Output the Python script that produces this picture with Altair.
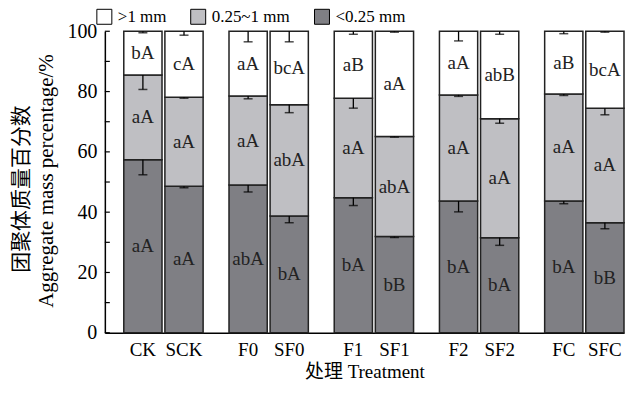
import altair as alt
import pandas as pd

treatments = ["CK", "SCK", "F0", "SF0", "F1", "SF1", "F2", "SF2", "FC", "SFC"]
groups = ["CK", "CK", "F0", "F0", "F1", "F1", "F2", "F2", "FC", "FC"]
subs = ["base", "straw"] * 5
group_order = ["CK", "F0", "F1", "F2", "FC"]
fractions = [">1 mm", "0.25~1 mm", "<0.25 mm"]
frac_colors = ["#ffffff", "#bfbfc3", "#7f7f84"]

fine = [57.4, 48.6, 49.0, 38.7, 44.8, 31.9, 43.7, 31.5, 43.7, 36.5]
mid = [28.1, 29.5, 29.5, 36.9, 33.0, 33.2, 35.2, 39.5, 35.5, 38.0]
coarse = [14.5, 21.9, 21.5, 24.4, 22.2, 34.9, 21.1, 29.0, 20.8, 25.5]

err_fine = [5.0, 0.5, 2.3, 2.2, 2.6, 0.3, 3.6, 2.5, 0.9, 2.0]
err_mid = [4.8, 0.3, 0.9, 2.6, 3.3, 0.2, 0.5, 1.5, 0.5, 2.2]
err_coarse = [0.5, 1.3, 3.5, 3.5, 1.0, 0.3, 3.2, 1.0, 0.8, 0.3]

let_fine = ["aA", "aA", "abA", "bA", "bA", "bB", "bA", "bA", "bA", "bB"]
let_mid = ["aA", "aA", "aA", "abA", "aA", "abA", "aA", "aA", "aA", "aA"]
let_coarse = ["bA", "cA", "aA", "bcA", "aB", "aA", "aA", "abB", "aB", "bcA"]

y_ticks = [0, 10, 20, 30, 40, 50, 60, 70, 80, 90, 100]
y_labels = [0, 20, 40, 60, 80, 100]
title_cn = "团聚体质量百分数"
title_en = "Aggregate mass percentage/%"
x_title = "处理 Treatment"

rows = []
for i, t in enumerate(treatments):
    base = 0.0
    for frac, vals, errs, lets in [
        ("<0.25 mm", fine, err_fine, let_fine),
        ("0.25~1 mm", mid, err_mid, let_mid),
        (">1 mm", coarse, err_coarse, let_coarse),
    ]:
        lo = base
        hi = base + vals[i]
        rows.append(dict(treatment=t, group=groups[i], sub=subs[i], fraction=frac,
                         lo=lo, hi=hi, mid=(lo + hi) / 2, errlo=hi - errs[i],
                         letter=lets[i]))
        base = hi
df = pd.DataFrame(rows)
lab_df = pd.DataFrame({"treatment": treatments, "group": groups, "sub": subs})
tick_df = pd.DataFrame({"v": y_ticks})
serif = "Liberation Serif, Times New Roman, serif"
cjk = "Liberation Serif, Noto Sans CJK SC"

xs = alt.X("group:N", sort=group_order,
           scale=alt.Scale(paddingInner=0.246, paddingOuter=0.09, align=1),
           axis=alt.Axis(labels=False, ticks=False, domainColor="black", domainWidth=1.5,
                         title=x_title, titleFont=cjk, titleFontSize=19,
                         titleFontWeight="normal", titleColor="black", titlePadding=30))
xo = alt.XOffset("sub:N", sort=["base", "straw"],
                 scale=alt.Scale(paddingInner=0.07, paddingOuter=0))
ys = alt.Scale(domain=[0, 100], nice=False)

bars = alt.Chart(df).mark_bar(stroke="#222222", strokeWidth=1.5).encode(
    x=xs, xOffset=xo,
    y=alt.Y("lo:Q", scale=ys,
            axis=alt.Axis(values=y_labels, ticks=False, grid=False, title=None,
                          labelFont=serif, labelFontSize=20, labelColor="black",
                          labelPadding=8, domainColor="black", domainWidth=1.5)),
    y2="hi:Q",
    color=alt.Color("fraction:N", sort=fractions,
                    scale=alt.Scale(domain=fractions, range=frac_colors),
                    legend=alt.Legend(orient="none", legendX=-9, legendY=-23,
                                      direction="horizontal", title=None,
                                      symbolType="square", symbolSize=225,
                                      symbolStrokeColor="black", symbolStrokeWidth=1,
                                      symbolOpacity=1,
                                      labelFont=serif, labelFontSize=17, labelColor="black",
                                      labelOffset=5, columnPadding=22)),
)

err_line = alt.Chart(df).mark_rule(color="black", strokeWidth=1.3).encode(
    x=xs, xOffset=xo, y="hi:Q", y2="errlo:Q")
err_cap = alt.Chart(df).mark_tick(color="black", size=9, thickness=1.5).encode(
    x=xs, xOffset=xo, y="errlo:Q")
letters = alt.Chart(df).mark_text(font=serif, fontSize=19, color="#222222",
                                  baseline="middle").encode(
    x=xs, xOffset=xo, y="mid:Q", text="letter:N")
xlabels = alt.Chart(lab_df).mark_text(font=serif, fontSize=19, color="black",
                                      baseline="middle").encode(
    x=xs, xOffset=xo, y=alt.value(319), text="treatment:N")
yticks = alt.Chart(tick_df).mark_rule(color="black", strokeWidth=1.2).encode(
    y=alt.Y("v:Q", scale=ys), x=alt.value(0), x2=alt.value(5))
t_cn = alt.Chart(pd.DataFrame({"t": [title_cn]})).mark_text(
    font="Noto Sans CJK SC", fontSize=21, angle=270, color="black", baseline="middle").encode(
    x=alt.value(-83), y=alt.value(158), text="t:N")
t_en = alt.Chart(pd.DataFrame({"t": [title_en]})).mark_text(
    font=serif, fontSize=21, angle=270, color="black", baseline="middle").encode(
    x=alt.value(-58), y=alt.value(150), text="t:N")

chart = alt.layer(bars, err_line, err_cap, letters, xlabels, yticks, t_cn, t_en).properties(
    width=520, height=302, padding={"left": 3, "top": 0, "right": 0, "bottom": 0}
).configure(font="Liberation Serif").configure_view(stroke=None)

chart.save("out.html", embed_options={"renderer": "svg", "actions": False})
